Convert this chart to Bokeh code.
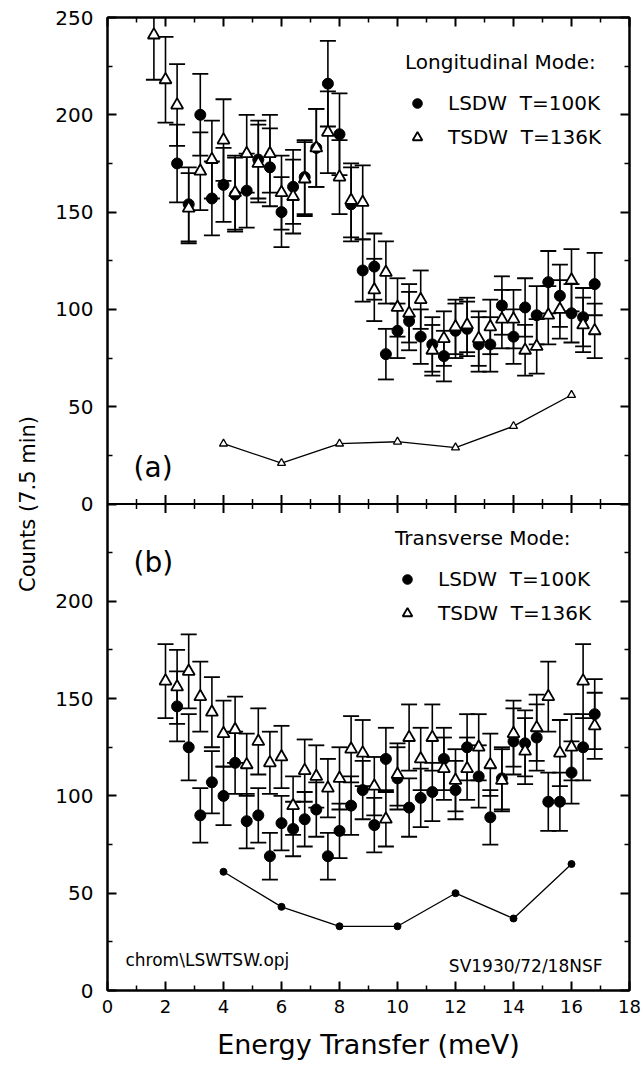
import numpy as np
from bokeh.plotting import figure
from bokeh.models import (Range1d, LinearAxis, FixedTicker, Span, Label,
                          Legend, LegendItem, ColumnDataSource)
from bokeh.embed import file_html
from bokeh.resources import INLINE

# ---------------- data ----------------
# (a) Longitudinal mode
a_lsdw_x = [2.4, 2.8, 3.2, 3.6, 4.0, 4.4, 4.8, 5.2, 5.6, 6.0, 6.4, 6.8, 7.2, 7.6,
            8.0, 8.4, 8.8, 9.2, 9.6, 10.0, 10.4, 10.8, 11.2, 11.6, 12.0, 12.4,
            12.8, 13.2, 13.6, 14.0, 14.4, 14.8, 15.2, 15.6, 16.0, 16.4, 16.8]
a_lsdw_y = [175, 154, 200, 157, 164, 159, 161, 177, 173, 150, 163, 168, 183, 216,
            190, 154, 120, 122, 77, 89, 94, 86, 82, 76, 89, 90,
            82, 82, 102, 86, 101, 97, 114, 107, 98, 96, 113]
a_lsdw_err = [20, 19, 21, 19, 19, 19, 19, 20, 20, 18, 19, 19, 20, 22,
              21, 19, 16, 17, 13, 14, 15, 14, 14, 13, 14, 14,
              14, 14, 15, 14, 15, 15, 16, 16, 15, 15, 16]

a_tsdw_x = [1.6, 2.0, 2.4, 2.8, 3.2, 3.6, 4.0, 4.4, 4.8, 5.2, 5.6, 6.0, 6.4, 6.8,
            7.2, 7.6, 8.0, 8.4, 8.8, 9.2, 9.6, 10.0, 10.4, 10.8, 11.2, 11.6,
            12.0, 12.4, 12.8, 13.2, 13.6, 14.0, 14.4, 14.8, 15.2, 15.6, 16.0,
            16.4, 16.8]
a_tsdw_y = [241, 218, 205, 152, 171, 177, 187, 160, 180, 175, 180, 160, 158, 167,
            183, 191, 168, 156, 155, 110, 119, 101, 98, 105, 79, 85,
            91, 92, 85, 91, 95, 95, 79, 81, 97, 100, 115,
            92, 89]
a_tsdw_err = [23, 22, 21, 18, 20, 20, 21, 19, 20, 20, 20, 19, 19, 19,
              20, 21, 19, 19, 19, 16, 16, 15, 15, 15, 13, 14,
              14, 14, 14, 14, 15, 15, 13, 14, 15, 15, 16,
              14, 14]

a_bg_x = [4, 6, 8, 10, 12, 14, 16]
a_bg_y = [31, 21, 31, 32, 29, 40, 56]

# (b) Transverse mode
b_lsdw_x = [2.4, 2.8, 3.2, 3.6, 4.0, 4.4, 4.8, 5.2, 5.6, 6.0, 6.4, 6.8, 7.2, 7.6,
            8.0, 8.4, 8.8, 9.2, 9.6, 10.0, 10.4, 10.8, 11.2, 11.6, 12.0, 12.4,
            12.8, 13.2, 13.6, 14.0, 14.4, 14.8, 15.2, 15.6, 16.0, 16.4, 16.8]
b_lsdw_y = [146, 125, 90, 107, 100, 117, 87, 90, 69, 86, 83, 88, 93, 69,
            82, 95, 103, 85, 119, 109, 94, 99, 102, 119, 103, 125,
            110, 89, 109, 128, 127, 130, 97, 97, 112, 125, 142]
b_lsdw_err = [18, 17, 14, 16, 15, 16, 14, 14, 12, 14, 14, 14, 14, 12,
              14, 15, 15, 14, 16, 16, 15, 15, 15, 16, 15, 17,
              16, 14, 16, 17, 17, 17, 15, 15, 16, 17, 18]

b_tsdw_x = [2.0, 2.4, 2.8, 3.2, 3.6, 4.0, 4.4, 4.8, 5.2, 5.6, 6.0, 6.4, 6.8,
            7.2, 7.6, 8.0, 8.4, 8.8, 9.2, 9.6, 10.0, 10.4, 10.8, 11.2, 11.6,
            12.0, 12.4, 12.8, 13.2, 13.6, 14.0, 14.4, 14.8, 15.2, 15.6, 16.0,
            16.4, 16.8]
b_tsdw_y = [159, 156, 164, 151, 143, 132, 134, 116, 128, 117, 120, 95, 113,
            110, 104, 109, 124, 122, 105, 88, 111, 130, 119, 130, 114,
            108, 114, 125, 116, 108, 132, 123, 135, 151, 122, 125,
            159, 136]
b_tsdw_err = [19, 19, 19, 18, 18, 17, 17, 16, 17, 16, 16, 15, 16,
              16, 15, 16, 17, 17, 15, 14, 16, 17, 16, 17, 16,
              16, 16, 17, 16, 16, 17, 17, 17, 18, 17, 17,
              19, 17]

b_bg_x = [4, 6, 8, 10, 12, 14, 16]
b_bg_y = [61, 43, 33, 33, 50, 37, 65]

x_major = [0, 2, 4, 6, 8, 10, 12, 14, 16, 18]
x_minor = [1, 3, 5, 7, 9, 11, 13, 15, 17]
panel_span = 250            # each panel covers 0..250 counts
y_major = [0, 50, 100, 150, 200, 250, 300, 350, 400, 450, 500]
y_minor = [25, 75, 125, 175, 225, 275, 325, 375, 425, 475]

FONT = "DejaVu Sans"
INK = "black"

# ---------------- figure ----------------
p = figure(frame_width=522, frame_height=973,
           x_range=Range1d(0, 18), y_range=Range1d(0, 2 * panel_span),
           output_backend="svg", toolbar_location=None,
           min_border_left=107, min_border_right=15, min_border_top=17,
           min_border_bottom=83,
           background_fill_color="white", border_fill_color="white")
p.extra_y_ranges = {"top": Range1d(-panel_span, panel_span)}
p.grid.visible = False
p.outline_line_color = INK
p.outline_line_width = 2


def style_axis(ax, show_labels=True):
    ax.axis_line_width = 2
    ax.axis_line_color = INK
    ax.major_tick_in = 9
    ax.major_tick_out = 0
    ax.minor_tick_in = 5
    ax.minor_tick_out = 0
    ax.major_tick_line_width = 2
    ax.minor_tick_line_width = 1.5
    ax.major_tick_line_color = INK
    ax.minor_tick_line_color = INK
    ax.major_label_text_font = FONT
    ax.major_label_text_color = INK
    if not show_labels:
        ax.major_label_text_color = None
        ax.major_label_standoff = 0


xax = p.xaxis[0]
xax.ticker = FixedTicker(ticks=x_major, minor_ticks=x_minor)
style_axis(xax)
xax.major_label_text_font_size = "18px"
xax.major_label_standoff = 9
xax.axis_label = "Energy Transfer (meV)"
xax.axis_label_text_font = FONT
xax.axis_label_text_font_size = "27px"
xax.axis_label_text_font_style = "normal"
xax.axis_label_text_color = INK
xax.axis_label_standoff = 13

yax = p.yaxis[0]
yax.ticker = FixedTicker(ticks=y_major, minor_ticks=y_minor)
style_axis(yax)
yax.major_label_text_font_size = "20px"
yax.major_label_standoff = 14
yax.major_label_overrides = {t: str(t - panel_span) for t in y_major if t >= panel_span}
yax.axis_label = "Counts (7.5 min)"
yax.axis_label_text_font = FONT
yax.axis_label_text_font_size = "21px"
yax.axis_label_text_font_style = "normal"
yax.axis_label_text_color = INK
yax.axis_label_standoff = 12

rax = LinearAxis(ticker=FixedTicker(ticks=y_major, minor_ticks=y_minor))
style_axis(rax, show_labels=False)
p.add_layout(rax, "right")

tax = LinearAxis(ticker=FixedTicker(ticks=x_major, minor_ticks=x_minor))
style_axis(tax, show_labels=False)
p.add_layout(tax, "above")

# divider between the panels, with ticks pointing into both panels
p.add_layout(Span(location=panel_span, dimension="width", line_color=INK,
                  line_width=2))
p.scatter(x_major[1:-1], [panel_span] * len(x_major[1:-1]), marker="dash",
          angle=np.pi / 2, size=18, line_color=INK, line_width=2)
p.scatter(x_minor, [panel_span] * len(x_minor), marker="dash",
          angle=np.pi / 2, size=10, line_color=INK, line_width=1.5)


def errbars(x, y, err, yr):
    y = np.asarray(y, float)
    e = np.asarray(err, float)
    src = ColumnDataSource(dict(x=x, lo=y - e, hi=y + e))
    p.segment(x0="x", y0="lo", x1="x", y1="hi", source=src, line_color=INK,
              line_width=1.6, y_range_name=yr)
    for col in ("lo", "hi"):
        p.scatter("x", col, source=src, marker="dash", size=16,
                  line_color=INK, line_width=1.8, y_range_name=yr)


# background lines
p.line(a_bg_x, a_bg_y, line_color=INK, line_width=1.3, y_range_name="top")
p.scatter(a_bg_x, a_bg_y, marker="triangle", size=8, fill_color="white",
          line_color=INK, line_width=1.3, y_range_name="top")
p.line(b_bg_x, b_bg_y, line_color=INK, line_width=1.3)
p.scatter(b_bg_x, b_bg_y, marker="circle", size=7, fill_color=INK,
          line_color=INK)

# error bars
errbars(a_lsdw_x, a_lsdw_y, a_lsdw_err, "top")
errbars(a_tsdw_x, a_tsdw_y, a_tsdw_err, "top")
errbars(b_lsdw_x, b_lsdw_y, b_lsdw_err, "default")
errbars(b_tsdw_x, b_tsdw_y, b_tsdw_err, "default")

# markers
a_c = p.scatter(a_lsdw_x, a_lsdw_y, marker="circle", size=11, fill_color=INK,
                line_color=INK, y_range_name="top")
a_t = p.scatter(a_tsdw_x, a_tsdw_y, marker="triangle", size=12, fill_color="white",
                line_color=INK, line_width=1.8, y_range_name="top")
b_c = p.scatter(b_lsdw_x, b_lsdw_y, marker="circle", size=11, fill_color=INK,
                line_color=INK)
b_t = p.scatter(b_tsdw_x, b_tsdw_y, marker="triangle", size=12, fill_color="white",
                line_color=INK, line_width=1.8)


def make_legend(title, rc, rt, loc):
    leg = Legend(items=[LegendItem(label="LSDW  T=100K", renderers=[rc]),
                        LegendItem(label="TSDW  T=136K", renderers=[rt])],
                 title=title, location=loc, orientation="vertical",
                 glyph_width=24, glyph_height=24, label_standoff=19,
                 spacing=10, padding=0, margin=0, title_standoff=17,
                 border_line_color=None, background_fill_alpha=0,
                 label_text_font=FONT, label_text_font_size="20px",
                 label_text_color=INK,
                 title_text_font=FONT, title_text_font_size="20px",
                 title_text_font_style="normal", title_text_color=INK)
    p.add_layout(leg, "center")


make_legend("Longitudinal Mode:", a_c, a_t, (298, 841))
make_legend("Transverse Mode:", b_c, b_t, (288, 365))

for lab in [
    Label(x=0.9, y=19, y_range_name="top", text="(a)", text_font_size="28px"),
    Label(x=0.9, y=220, text="(b)", text_font_size="28px"),
    Label(x=0.62, y=15.5, text="chrom\\LSWTSW.opj", text_font_size="17px"),
    Label(x=17.07, y=12.4, text="SV1930/72/18NSF", text_font_size="17px",
          text_align="right"),
]:
    lab.text_font = FONT
    lab.text_color = INK
    lab.text_baseline = "middle"
    p.add_layout(lab)

open("out.html", "w").write(file_html(p, INLINE))
